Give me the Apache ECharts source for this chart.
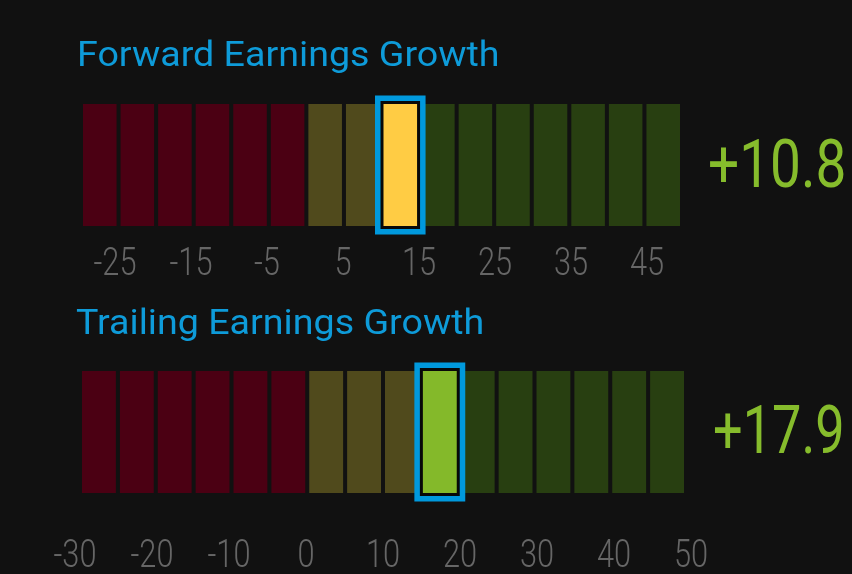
<!DOCTYPE html>
<html>
<head>
<meta charset="utf-8">
<script src="https://cdn.jsdelivr.net/npm/echarts@6/dist/echarts.min.js"></script>
<style>
  html, body { margin: 0; padding: 0; background: #111111; }
  #chart { width: 852px; height: 574px; }
</style>
</head>
<body>
<div id="chart"></div>
<script>
"use strict";
// bucket edges of each meter (every bar covers edge[i] .. edge[i+1])
var forwardEdges = [-30, -25, -20, -15, -10, -5, 0, 5, 10, 15, 20, 25, 30, 35, 40, 45, 50];
var trailingEdges = [-30, -25, -20, -15, -10, -5, 0, 5, 10, 15, 20, 25, 30, 35, 40, 45, 50];
var forwardTicks = [-25, -15, -5, 5, 15, 25, 35, 45];
var trailingTicks = [-30, -20, -10, 0, 10, 20, 30, 40, 50];
var forwardValue = 10.8;
var trailingValue = 17.9;
var titles = ['Forward Earnings Growth', 'Trailing Earnings Growth'];

var RED = '#4b0013', OLIVE = '#504a1c', GREEN = '#283f11';
var HI_OLIVE = '#ffcc44', HI_GREEN = '#84b92a';
var BLUE = '#0099dd';

var zoneColor = function(start, hi){
	if (start < 0) return RED;
	if (start < 15) return hi ? HI_OLIVE : OLIVE;
	return hi ? HI_GREEN : GREEN;
};

var buckets = function(edges){
	var out = [];
	for (var i = 0; i < edges.length - 1; i++) out.push([edges[i], edges[i + 1]]);
	return out;
};

var makeRender = function(value){
	return function(params, api){
		var s = api.value(0), e = api.value(1);
		var p0 = api.coord([s, 0]), p1 = api.coord([e, 1]);
		var x = p0[0] + 2, w = p1[0] - p0[0] - 4;
		var y = p1[1], h = p0[1] - p1[1];
		var hi = value >= s && value < e;
		if (!hi) {
			return {type: 'rect', shape: {x: x, y: y, width: w, height: h}, style: {fill: zoneColor(s, false)}};
		}
		return {type: 'group', children: [
			{type: 'rect', z2: 10, shape: {x: x - 8.5, y: y - 8.5, width: w + 17, height: h + 17}, style: {fill: BLUE}},
			{type: 'rect', z2: 11, shape: {x: x - 3, y: y - 3, width: w + 6, height: h + 6}, style: {fill: '#080808'}},
			{type: 'rect', z2: 12, shape: {x: x, y: y, width: w, height: h}, style: {fill: zoneColor(s, true)}}
		]};
	};
};

// tick labels, condensed look by squeezing Roboto Light
var renderTick = function(params, api){
	var v = api.value(0);
	var p = api.coord([v, 0.5]);
	return {
		type: 'text', x: p[0], y: p[1] + 3.8, scaleX: 0.81,
		style: {text: String(v), x: 0, y: 0, align: 'center', verticalAlign: 'middle',
			font: '300 38px Roboto, sans-serif', fill: '#666666'}
	};
};

var hiddenX = function(idx){
	return {gridIndex: idx, type: 'value', min: -30, max: 50, show: false, splitLine: {show: false}};
};
var hiddenY = function(idx){
	return {gridIndex: idx, type: 'value', min: 0, max: 1, show: false, splitLine: {show: false}};
};

var sign = function(v){ return (v >= 0 ? '+' : '') + v.toFixed(1); };

var option = {
	backgroundColor: '#111111',
	animation: false,
	grid: [
		{left: 81, width: 601, top: 104, height: 122},
		{left: 80, width: 606, top: 371, height: 122},
		{left: 77, width: 608, top: 242, height: 40},
		{left: 75, width: 616, top: 534, height: 40}
	],
	xAxis: [hiddenX(0), hiddenX(1), hiddenX(2), hiddenX(3)],
	yAxis: [hiddenY(0), hiddenY(1), hiddenY(2), hiddenY(3)],
	series: [
		{type: 'custom', xAxisIndex: 0, yAxisIndex: 0, renderItem: makeRender(forwardValue), data: buckets(forwardEdges)},
		{type: 'custom', xAxisIndex: 1, yAxisIndex: 1, renderItem: makeRender(trailingValue), data: buckets(trailingEdges)},
		{type: 'custom', xAxisIndex: 2, yAxisIndex: 2, renderItem: renderTick, data: forwardTicks.map(function(v){ return [v]; })},
		{type: 'custom', xAxisIndex: 3, yAxisIndex: 3, renderItem: renderTick, data: trailingTicks.map(function(v){ return [v]; })}
	],
	graphic: [
		{type: 'text', x: 77, y: 57.5, scaleX: 1.075, style: {text: titles[0], fill: '#0e9bd9', font: '35px Roboto, sans-serif', verticalAlign: 'middle'}},
		{type: 'text', x: 76, y: 325, scaleX: 1.075, style: {text: titles[1], fill: '#0e9bd9', font: '35px Roboto, sans-serif', verticalAlign: 'middle'}},
		{type: 'text', x: 708, y: 170, scaleX: 0.82, style: {text: sign(forwardValue), fill: '#86bc2c', font: '67px Roboto, sans-serif', verticalAlign: 'middle'}},
		{type: 'text', x: 713, y: 436, scaleX: 0.78, style: {text: sign(trailingValue), fill: '#86bc2c', font: '67px Roboto, sans-serif', verticalAlign: 'middle'}}
	]
};

var myChart = echarts.init(document.getElementById('chart'));
myChart.setOption(option);
</script>
</body>
</html>
